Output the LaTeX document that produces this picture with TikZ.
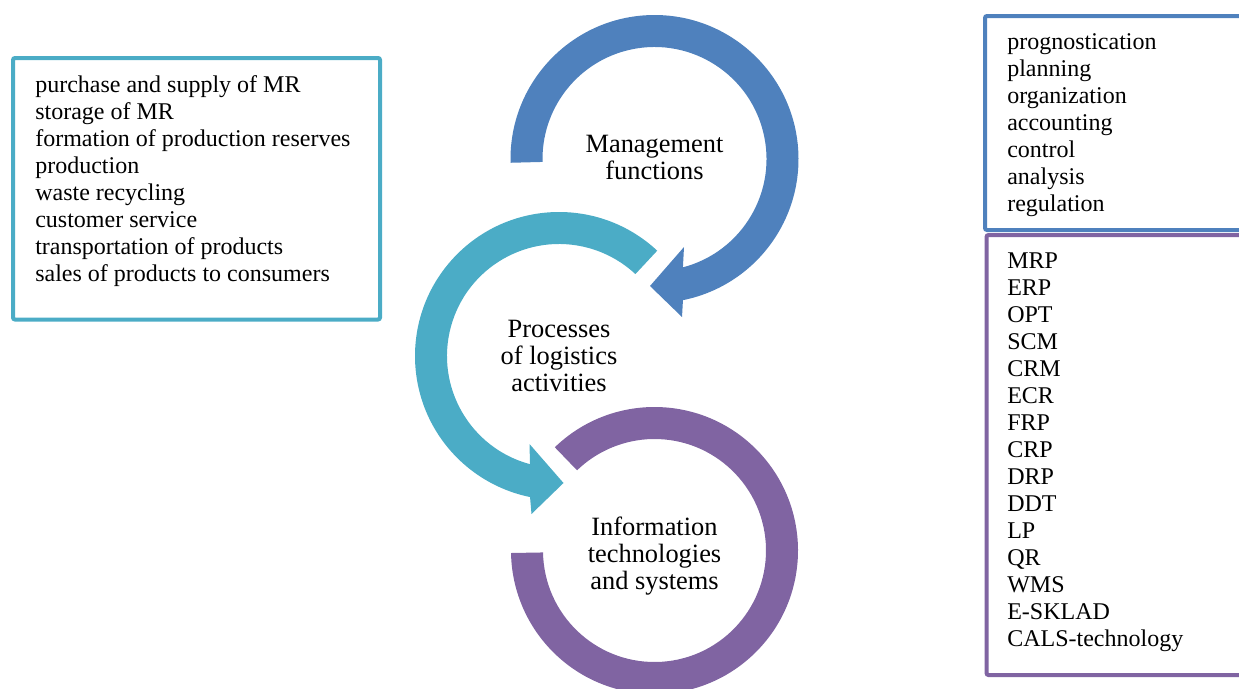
\documentclass[tikz,border=0pt]{standalone}
\usepackage{fontspec}
\setmainfont{Liberation Serif}
\definecolor{mgmtblue}{RGB}{79,129,189}
\definecolor{proccyan}{RGB}{75,172,198}
\definecolor{infopurple}{RGB}{128,100,162}
\tikzset{
	listtext/.style={anchor=north west, inner sep=0pt, align=left, font=\fontsize{18}{20.25}\selectfont},
	ringlabel/.style={inner sep=0pt, align=center, font=\fontsize{19.8}{20.25}\selectfont},
	listbox/.style={line width=3pt, rounded corners=1.5pt},
}
\begin{document}
	\begin{tikzpicture}[x=0.75pt,y=0.75pt,yscale=-1,xscale=1]
		\path[use as bounding box] (0,0) rectangle (1239,689);
		\clip (0,0) rectangle (1239,689);
		% ring centres
		\coordinate (mgmt) at (654.5,159);
		\coordinate (proc) at (559,356);
		\coordinate (info) at (654.5,550.5);
		
		%Shape: Circular Arrow [id:mgmt]
		\fill[mgmtblue] ([shift={(-181.5:144)}]mgmt) arc[start angle=-181.5, end angle=78.6, radius=144]
			-- ([shift={(27.5,158)}]mgmt) -- ([shift={(-4.5,127)}]mgmt) -- ([shift={(29.5,88)}]mgmt)
			-- ([shift={(75.3:112)}]mgmt) arc[start angle=75.3, end angle=-181.5, radius=112] -- cycle;
		%Shape: Circular Arrow [id:proc]
		\fill[proccyan] ([shift={(-47:144)}]proc) arc[start angle=-47, end angle=-258.4, radius=144]
			-- ([shift={(-27.5,158)}]proc) -- ([shift={(4.5,127)}]proc) -- ([shift={(-29.5,88)}]proc)
			-- ([shift={(-255:112)}]proc) arc[start angle=-255, end angle=-47, radius=112] -- cycle;
		%Shape: Arc [id:info]
		\fill[infopurple] ([shift={(-134:143.5)}]info) arc[start angle=-134, end angle=179, radius=143.5]
			-- ([shift={(179:111.5)}]info) arc[start angle=179, end angle=-134, radius=111.5] -- cycle;
		
		% Text Node
		\node[ringlabel] (mgmtlabel) at ([shift={(0,-2)}]mgmt) {Management\\functions};
		% Text Node
		\node[ringlabel] (proclabel) at (proc) {Processes\\of logistics\\activities};
		% Text Node
		\node[ringlabel] (infolabel) at ([shift={(0,6)}]info) {Information\\technologies\\and systems};
		
		%Shape: Rectangle [id:procbox]
		\draw[listbox, proccyan] (13,58) rectangle (380,319.5);
		%Shape: Rectangle [id:funcbox]
		\draw[listbox, mgmtblue] (985,16) rectangle (1260,230);
		%Shape: Rectangle [id:techbox]
		\draw[listbox, infopurple] (986.5,235) rectangle (1260,675);
		
		% Text Node
		\node[listtext] (procs) at (35,75) {purchase and supply of MR\\storage of MR\\formation of production reserves\\production\\waste recycling\\customer service\\transportation of products\\sales of products to consumers};
		% Text Node
		\node[listtext] (funcs) at (1007,33.5) {prognostication\\planning\\organization\\accounting\\control\\analysis\\regulation};
		% Text Node
		\node[listtext] (techs) at (1007,253) {MRP\\ERP\\OPT\\SCM\\CRM\\ECR\\FRP\\CRP\\DRP\\DDT\\LP\\QR\\WMS\\E-SKLAD\\CALS-technology};
	\end{tikzpicture}
\end{document}
